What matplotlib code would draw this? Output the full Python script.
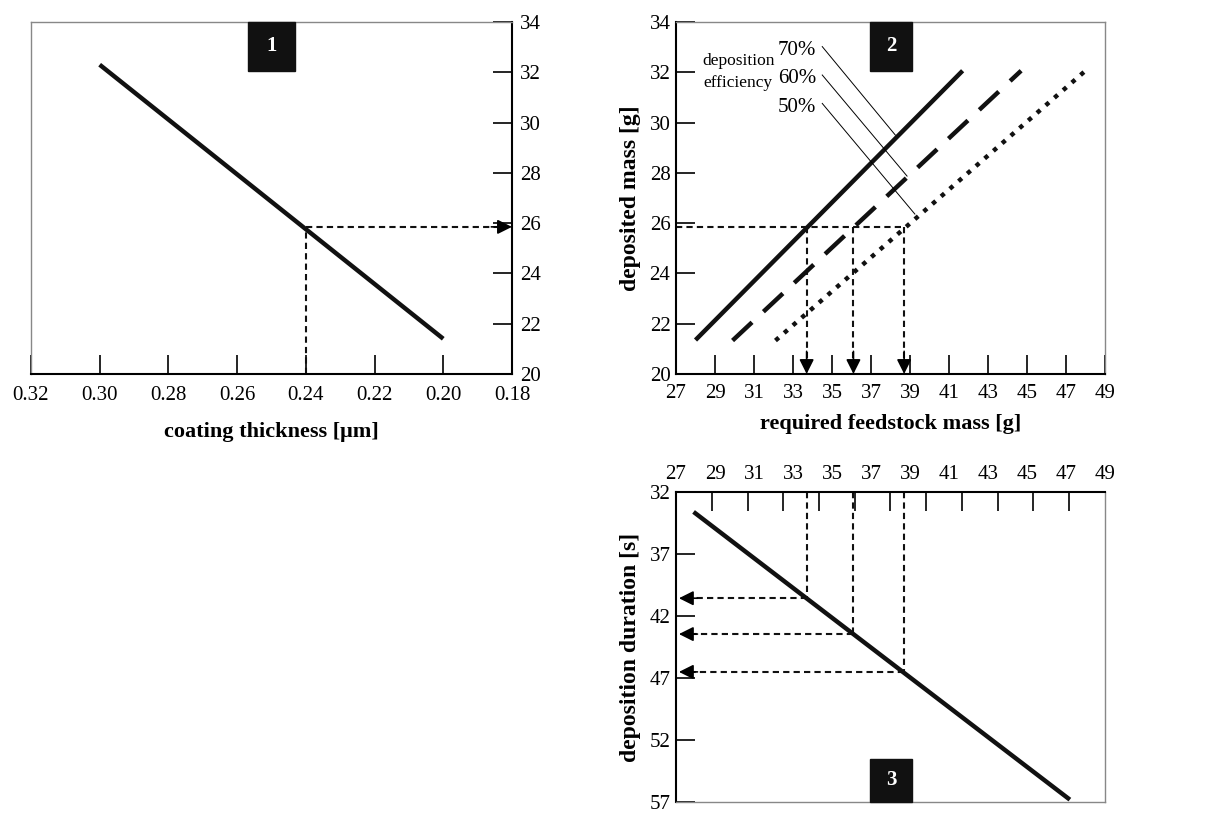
import matplotlib
matplotlib.use("Agg")
import matplotlib.pyplot as plt
from matplotlib.patches import Rectangle

plt.rcParams['font.family'] = ['Liberation Serif', 'DejaVu Serif']

# panel 1: coating thickness vs deposited mass
thickness_ticks = [0.32, 0.30, 0.28, 0.26, 0.24, 0.22, 0.20, 0.18]
mass_ticks = [20, 22, 24, 26, 28, 30, 32, 34]
thickness_line = [0.30, 0.20]
mass_line = [32.3, 21.4]
target_thickness = 0.24
target_mass = 25.85

# panel 2: deposited mass vs required feedstock mass
feed_ticks = [27, 29, 31, 33, 35, 37, 39, 41, 43, 45, 47, 49]
eff_labels = ["70%", "60%", "50%"]
eff_feed = [[28.0, 41.7], [29.9, 44.7], [32.1, 48.0]]
eff_mass = [[21.35, 32.06], [21.33, 32.06], [21.33, 32.06]]
feed_needed = [33.7, 36.1, 38.7]

# panel 3: feedstock mass vs deposition duration
duration_ticks = [32, 37, 42, 47, 52, 57]
feed_minor = [27 + i * 22 / 12 for i in range(13)]
dur_feed = [27.9, 47.2]
dur_line = [33.6, 56.8]
dur_needed = [40.56, 43.45, 46.5]

DARK = "#111111"
FRAME = "#888888"
TICK_FS = 15
LAB_FS = 16


def frame(ax, black_sides):
    for side, sp in ax.spines.items():
        if side in black_sides:
            sp.set_color("black")
            sp.set_linewidth(1.5)
        else:
            sp.set_color(FRAME)
            sp.set_linewidth(1.0)


def tag(ax, text, y0):
    ax.add_patch(Rectangle((0.452, y0), 0.098, 0.139, transform=ax.transAxes,
                           color=DARK, zorder=5, clip_on=False))
    ax.text(0.501, y0 + 0.07, text, transform=ax.transAxes, color="white",
            ha="center", va="center", fontsize=15, fontweight="bold", zorder=6)


def arrow_head(ax, start, end):
    ax.annotate("", xy=end, xytext=start,
                arrowprops=dict(arrowstyle="-|>", color="black", lw=1.2,
                                mutation_scale=22, shrinkA=0, shrinkB=0),
                annotation_clip=False)


def main():
    fig = plt.figure(figsize=(12.28, 8.16), dpi=100)
    ax1 = fig.add_axes([0.0252, 0.5417, 0.3917, 0.4314])
    ax2 = fig.add_axes([0.5505, 0.5417, 0.3493, 0.4314])
    ax3 = fig.add_axes([0.5505, 0.0170, 0.3493, 0.3800])

    dash = (0, (3, 2))

    # ---- panel 1
    ax1.plot(thickness_line, mass_line, color=DARK, lw=3.2, solid_capstyle="butt")
    ax1.plot([target_thickness, target_thickness], [20, target_mass], color=DARK,
             lw=1.5, ls=dash)
    ax1.plot([target_thickness, 0.1835], [target_mass, target_mass], color=DARK,
             lw=1.5, ls=dash)
    arrow_head(ax1, (0.186, target_mass), (0.18, target_mass))
    ax1.set_xlim(0.32, 0.18)
    ax1.set_ylim(20, 34)
    ax1.set_xticks(thickness_ticks)
    ax1.set_xticklabels([f"{t:.2f}" for t in thickness_ticks])
    ax1.set_yticks(mass_ticks)
    ax1.yaxis.tick_right()
    ax1.tick_params(direction="in", length=14, width=1.2, labelsize=TICK_FS, pad=6)
    ax1.tick_params(axis="x", pad=9)
    ax1.set_xlabel("coating thickness [\u03bcm]", fontsize=LAB_FS, fontweight="bold",
                   labelpad=12)
    frame(ax1, ["bottom", "right"])
    tag(ax1, "1", 0.861)

    # ---- panel 2
    styles = [dict(ls="-"), dict(ls=(0, (6, 3.5))), dict(ls=(0, (1, 1.6)))]
    for xs, ys, st in zip(eff_feed, eff_mass, styles):
        ax2.plot(xs, ys, color=DARK, lw=3.2, solid_capstyle="butt",
                 dash_capstyle="butt", **st)
    ax2.plot([27, feed_needed[-1]], [target_mass, target_mass], color=DARK,
             lw=1.5, ls=dash)
    for fx in feed_needed:
        ax2.plot([fx, fx], [target_mass, 20.55], color=DARK, lw=1.5, ls=dash)
        arrow_head(ax2, (fx, 20.9), (fx, 20.0))
    # leader lines for efficiency labels
    lead_start = [(34.5, 33.02), (34.5, 31.89), (34.5, 30.76)]
    lead_end = [(38.25, 29.5), (38.85, 27.87), (39.25, 26.36)]
    for lab, s, e in zip(eff_labels, lead_start, lead_end):
        ax2.plot([s[0], e[0]], [s[1], e[1]], color="black", lw=0.7)
        ax2.text(s[0] - 0.3, s[1] - 0.15, lab, ha="right", va="center",
                 fontsize=TICK_FS)
    ax2.text(30.2, 32.0, "deposition\nefficiency", ha="center", va="center",
             fontsize=12.5, linespacing=1.5)
    ax2.set_xlim(27, 49)
    ax2.set_ylim(20, 34)
    ax2.set_xticks(feed_ticks)
    ax2.set_yticks(mass_ticks)
    ax2.tick_params(direction="in", length=14, width=1.2, labelsize=TICK_FS, pad=4)
    ax2.tick_params(axis="x", pad=7)
    ax2.set_xlabel("required feedstock mass [g]", fontsize=LAB_FS, fontweight="bold",
                   labelpad=8)
    ax2.set_ylabel("deposited mass [g]", fontsize=17, fontweight="bold",
                   labelpad=6)
    frame(ax2, ["bottom", "left"])
    tag(ax2, "2", 0.861)

    # ---- panel 3
    ax3.plot(dur_feed, dur_line, color=DARK, lw=3.2, solid_capstyle="butt")
    for fx, dy in zip(feed_needed, dur_needed):
        ax3.plot([fx, fx], [32, dy], color=DARK, lw=1.5, ls=dash)
        ax3.plot([fx, 27.8], [dy, dy], color=DARK, lw=1.5, ls=dash)
        arrow_head(ax3, (28.1, dy), (27.15, dy))
    ax3.set_xlim(27, 49)
    ax3.set_ylim(57, 32)
    ax3.xaxis.tick_top()
    ax3.set_xticks(feed_ticks)
    ax3.set_xticks(feed_minor, minor=True)
    ax3.set_yticks(duration_ticks)
    ax3.tick_params(axis="x", which="major", length=0, labelsize=TICK_FS, pad=6)
    ax3.tick_params(axis="x", which="minor", direction="in", length=14, width=1.2)
    ax3.tick_params(axis="y", direction="in", length=14, width=1.2,
                    labelsize=TICK_FS, pad=4)
    ax3.set_ylabel("deposition duration [s]", fontsize=17, fontweight="bold",
                   labelpad=6)
    frame(ax3, ["top", "left"])
    tag(ax3, "3", 0.0)

    fig.savefig("out.png", dpi=100)


if __name__ == "__main__":
    main()
